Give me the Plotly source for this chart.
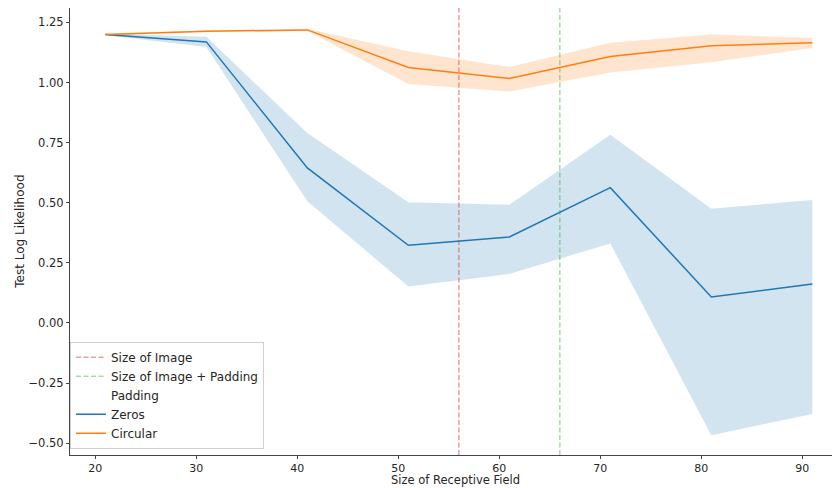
import plotly.graph_objects as go

receptive_field = [21, 31, 41, 51, 61, 71, 81, 91]

zeros_mean = [1.200, 1.169, 0.645, 0.323, 0.358, 0.563, 0.108, 0.162]
zeros_upper = [1.203, 1.190, 0.790, 0.502, 0.492, 0.783, 0.475, 0.512]
zeros_lower = [1.197, 1.148, 0.506, 0.152, 0.204, 0.331, -0.467, -0.378]

circular_mean = [1.200, 1.213, 1.219, 1.063, 1.017, 1.108, 1.153, 1.165]
circular_upper = [1.204, 1.216, 1.224, 1.130, 1.065, 1.166, 1.200, 1.185]
circular_lower = [1.196, 1.210, 1.214, 0.994, 0.963, 1.042, 1.084, 1.144]

size_of_image = 56
size_of_image_padding = 66

x_range = [17.5, 93.74]
y_range = [-0.549, 1.31]
y_ticks = [-0.5, -0.25, 0.0, 0.25, 0.5, 0.75, 1.0, 1.25]
y_tick_labels = ["\u22120.50", "\u22120.25", "0.00", "0.25", "0.50", "0.75", "1.00", "1.25"]
x_ticks = [20, 30, 40, 50, 60, 70, 80, 90]

x_title = "Size of Receptive Field"
y_title = "Test Log Likelihood"

BLUE = "#1f77b4"
ORANGE = "#ff7f0e"

fig = go.Figure()

# confidence bands
for upper, lower, fillc in [
    (zeros_upper, zeros_lower, "rgba(31,119,180,0.2)"),
    (circular_upper, circular_lower, "rgba(255,127,14,0.2)"),
]:
    fig.add_trace(go.Scatter(x=receptive_field, y=upper, mode="lines",
                             line=dict(width=0, color=fillc), showlegend=False,
                             hoverinfo="skip"))
    fig.add_trace(go.Scatter(x=receptive_field, y=lower, mode="lines",
                             line=dict(width=0, color=fillc), fill="tonexty",
                             fillcolor=fillc, showlegend=False, hoverinfo="skip"))

# vertical reference lines
fig.add_trace(go.Scatter(x=[size_of_image, size_of_image], y=y_range, mode="lines",
                         name="Size of Image",
                         line=dict(color="rgba(228,60,60,0.5)", width=1.5, dash="5px,2.5px")))
fig.add_trace(go.Scatter(x=[size_of_image_padding, size_of_image_padding], y=y_range, mode="lines",
                         name="Size of Image + Padding",
                         line=dict(color="rgba(60,170,60,0.45)", width=1.5, dash="5px,2.5px")))
# legend title-like entry
fig.add_trace(go.Scatter(x=[None], y=[None], mode="lines", name="Padding",
                         line=dict(color="rgba(0,0,0,0)", width=1.5)))

fig.add_trace(go.Scatter(x=receptive_field, y=zeros_mean, mode="lines", name="Zeros",
                         line=dict(color=BLUE, width=1.5)))
fig.add_trace(go.Scatter(x=receptive_field, y=circular_mean, mode="lines", name="Circular",
                         line=dict(color=ORANGE, width=1.5)))

axis_common = dict(
    showgrid=False, zeroline=False, showline=True, linecolor="#444", linewidth=1,
    ticks="outside", ticklen=3, tickcolor="#444",
    mirror=False, automargin=False,
)

fig.update_layout(
    width=832, height=480,
    margin=dict(l=62, r=0, t=0, b=33),
    paper_bgcolor="white", plot_bgcolor="white",
    font=dict(family="DejaVu Sans", size=12, color="#262626"),
    xaxis=dict(range=x_range, tickvals=x_ticks,
               tickfont=dict(family="DejaVu Sans", size=11, color="#262626"),
               **axis_common),
    yaxis=dict(range=y_range, tickvals=y_ticks, ticktext=y_tick_labels,
               tickfont=dict(family="DejaVu Sans", size=11.5, color="#262626"),
               **axis_common),
    legend=dict(x=0.0, y=0.014, xanchor="left", yanchor="bottom",
                bgcolor="rgba(255,255,255,0.8)", bordercolor="#d0d0d0", borderwidth=1,
                font=dict(family="DejaVu Sans", size=12, color="#262626"),
                traceorder="normal", tracegroupgap=0, itemwidth=30),
    showlegend=True,
)

fig.add_annotation(text=x_title, xref="paper", yref="paper", x=0.5, y=-0.057,
                   xanchor="center", yanchor="middle", showarrow=False, borderpad=0,
                   font=dict(family="DejaVu Sans", size=11.5, color="#262626"))
fig.add_annotation(text=y_title, xref="paper", yref="paper", x=-0.066, y=0.5,
                   xanchor="center", yanchor="middle", textangle=-90, showarrow=False,
                   font=dict(family="DejaVu Sans", size=12, color="#262626"))

fig.write_html("out.html")
